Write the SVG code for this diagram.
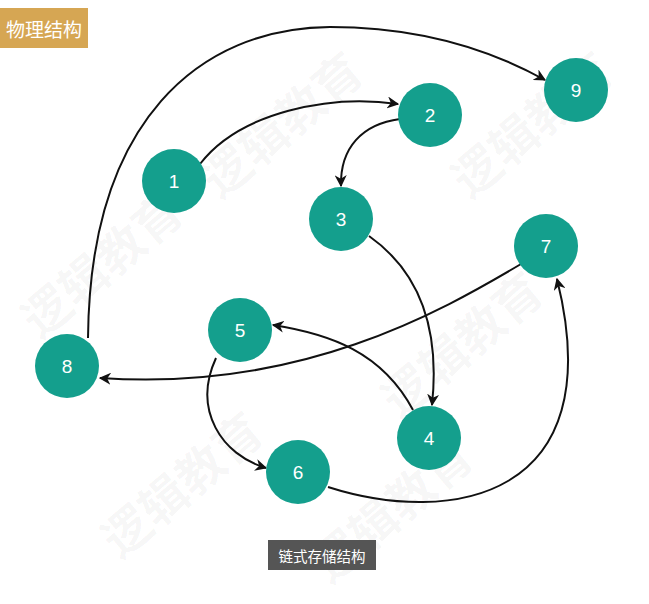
<svg xmlns="http://www.w3.org/2000/svg" width="649" height="604" viewBox="0 0 649 604">
<style>
.node circle{fill:#149f8d}
.node text{fill:#fff;font-family:"Liberation Sans",Arial,sans-serif;font-size:19px;text-anchor:middle;dominant-baseline:central}
.edge{fill:none;stroke:#111;stroke-width:2;marker-end:url(#arr)}
.wm{fill:#000;fill-opacity:0.035;font-family:"Noto Sans CJK SC",sans-serif;font-size:48px;font-weight:bold}
</style>
<defs>
<marker id="arr" viewBox="0 0 10 10" refX="9" refY="5" markerWidth="6" markerHeight="6" orient="auto" markerUnits="strokeWidth">
<path d="M0,0 L10,5 L0,10 L3,5 Z" fill="#111"/>
</marker>
</defs>
<rect width="649" height="604" fill="#fff"/>
<g id="watermark">
<text class="wm" transform="translate(40,340) rotate(-40)">逻辑教育</text>
<text class="wm" transform="translate(120,560) rotate(-40)">逻辑教育</text>
<text class="wm" transform="translate(330,585) rotate(-40)">逻辑教育</text>
<text class="wm" transform="translate(220,200) rotate(-40)">逻辑教育</text>
<text class="wm" transform="translate(400,420) rotate(-40)">逻辑教育</text>
<text class="wm" transform="translate(470,200) rotate(-40)">逻辑教育</text>
</g>
<g id="title">
<rect x="0" y="8" width="88" height="40" fill="#d6a653"/>
<text x="44" y="28" fill="#fff" font-family="Noto Sans CJK SC,sans-serif" font-size="19" text-anchor="middle" dominant-baseline="central">物理结构</text>
</g>
<g id="caption">
<rect x="268" y="540" width="108" height="30" fill="#555"/>
<text x="322" y="555" fill="#fff" font-family="Noto Sans CJK SC,sans-serif" font-size="14.5" text-anchor="middle" dominant-baseline="central">链式存储结构</text>
</g>
<g id="connectors">
<path class="edge" d="M200 164 C240 112,330 94,398 104"/>
<path class="edge" d="M400 119 C362 124,340 148,341 186"/>
<path class="edge" d="M369 236 C420 272,440 330,432 405"/>
<path class="edge" d="M413 410 C382 352,330 334,273 325"/>
<path class="edge" d="M216 358 C192 410,222 455,266 468"/>
<path class="edge" d="M328 487 C450 526,612 500,557 279"/>
<path class="edge" d="M521 264 C440 312,300 392,100 378"/>
<path class="edge" d="M88 338 C90 120,200 28,330 27 C430 27,500 55,545 80"/>
</g>
<g id="n1" class="node"><circle cx="174" cy="181" r="32"/><text x="174" y="181">1</text></g>
<g id="n2" class="node"><circle cx="430" cy="115" r="32"/><text x="430" y="115">2</text></g>
<g id="n3" class="node"><circle cx="341" cy="219" r="32"/><text x="341" y="219">3</text></g>
<g id="n4" class="node"><circle cx="429" cy="438" r="32"/><text x="429" y="438">4</text></g>
<g id="n5" class="node"><circle cx="240" cy="330" r="32"/><text x="240" y="330">5</text></g>
<g id="n6" class="node"><circle cx="298" cy="472" r="32"/><text x="298" y="472">6</text></g>
<g id="n7" class="node"><circle cx="546" cy="246" r="32"/><text x="546" y="246">7</text></g>
<g id="n8" class="node"><circle cx="67" cy="366" r="32"/><text x="67" y="366">8</text></g>
<g id="n9" class="node"><circle cx="576" cy="90" r="32"/><text x="576" y="90">9</text></g>
</svg>
